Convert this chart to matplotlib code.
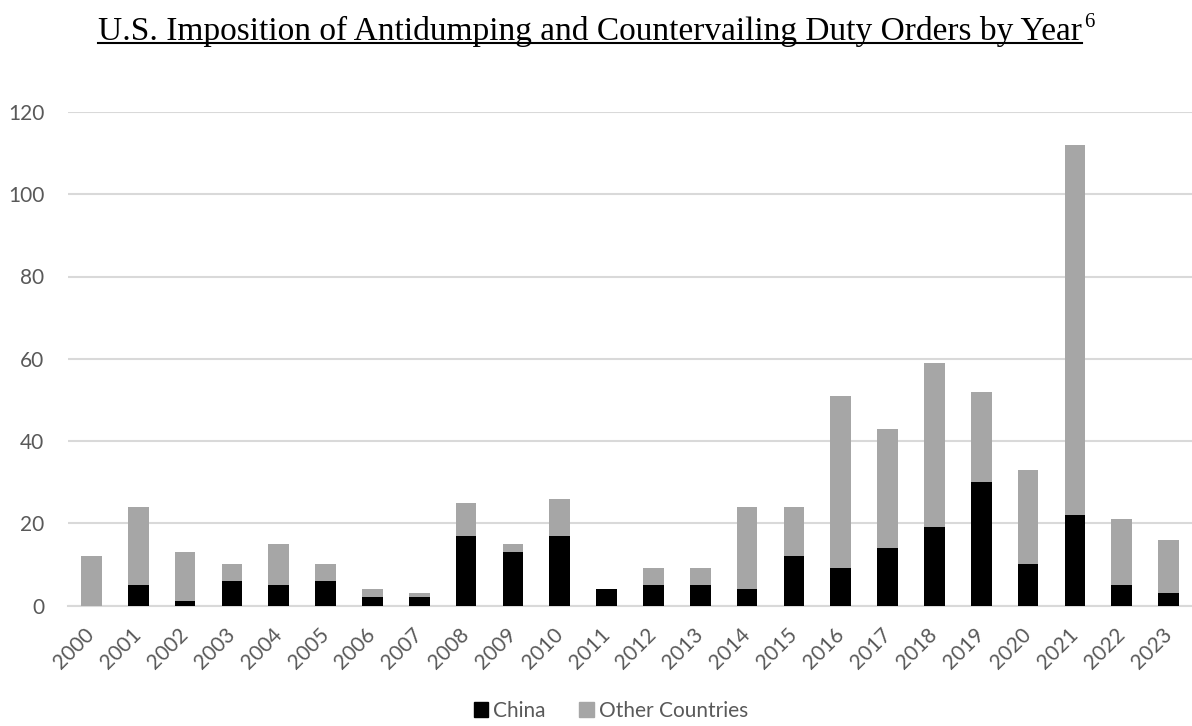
import matplotlib
matplotlib.use("Agg")
import matplotlib.pyplot as plt
from matplotlib.lines import Line2D
from matplotlib.patches import Patch

years = [str(y) for y in range(2000, 2024)]
china = [0, 5, 1, 6, 5, 6, 2, 2, 17, 13, 17, 4, 5, 5, 4, 12, 9, 14, 19, 30, 10, 22, 5, 3]
total = [12, 24, 13, 10, 15, 10, 4, 3, 25, 15, 26, 4, 9, 9, 24, 24, 51, 43, 59, 52, 33, 112, 21, 16]
other = [t - c for t, c in zip(total, china)]
yticks = [0, 20, 40, 60, 80, 100, 120]

title_text = "U.S. Imposition of Antidumping and Countervailing Duty Orders by Year"
note_mark = "6"

BLACK = "#000000"
GREY = "#a6a6a6"
TEXT = "#595959"
GRID = "#d9d9d9"
SANS = "Lato"
SERIF = "Liberation Serif"

W, H = 1192, 726
fig = plt.figure(figsize=(W / 100, H / 100), dpi=100)
ax = fig.add_axes([68 / W, 1 - 605.5 / H, 1 - 68 / W, (605.5 - 112) / H])

x = list(range(len(years)))
width = 0.44
ax.bar(x, china, width=width, color=BLACK, zorder=3)
ax.bar(x, other, width=width, bottom=china, color=GREY, zorder=3)

ax.set_xlim(-0.5, len(years) - 0.5)
ax.set_ylim(0, 120)
ax.set_yticks(yticks)
ax.set_yticklabels([str(v) for v in yticks], fontfamily=SANS, fontsize=15, color=TEXT)
ax.tick_params(axis="y", length=0, pad=17)
ax.yaxis.grid(True, color=GRID, linewidth=1.5, zorder=0)
ax.set_axisbelow(True)
for side in ("top", "right", "left"):
    ax.spines[side].set_visible(False)
ax.spines["bottom"].set_color(GRID)
ax.spines["bottom"].set_linewidth(1.5)

ax.set_xticks(x)
ax.set_xticklabels(years, rotation=45, ha="right", va="center", rotation_mode="anchor",
                   fontfamily=SANS, fontsize=15, color=TEXT)
ax.tick_params(axis="x", length=0, pad=19)

# Title with underline and footnote marker
t = fig.text(0.5 - 6 / W, 1 - 40 / H, title_text, ha="center", va="baseline",
             fontfamily=SERIF, fontsize=24, color="black")
fig.canvas.draw()
renderer = fig.canvas.get_renderer()
bb = t.get_window_extent(renderer)
x0, x1 = bb.x0 / W, bb.x1 / W
yline = 1 - 43 / H
fig.add_artist(Line2D([x0, x1], [yline, yline], color="black", linewidth=1.5,
                      transform=fig.transFigure))
fig.text(x1 + 2 / W, 1 - 27 / H, note_mark, ha="left", va="baseline",
         fontfamily=SERIF, fontsize=15, color="black")

handles = [Patch(facecolor=BLACK, edgecolor=BLACK), Patch(facecolor=GREY, edgecolor=GREY)]
fig.legend(handles, ["China", "Other Countries"], loc="center", bbox_to_anchor=(611 / W, 1 - 711 / H),
           ncol=2, frameon=False, handlelength=0.7, handleheight=0.7, handletextpad=0.25,
           columnspacing=1.6, prop={"family": SANS, "size": 15}, labelcolor=TEXT)

fig.savefig("out.png", dpi=100)
